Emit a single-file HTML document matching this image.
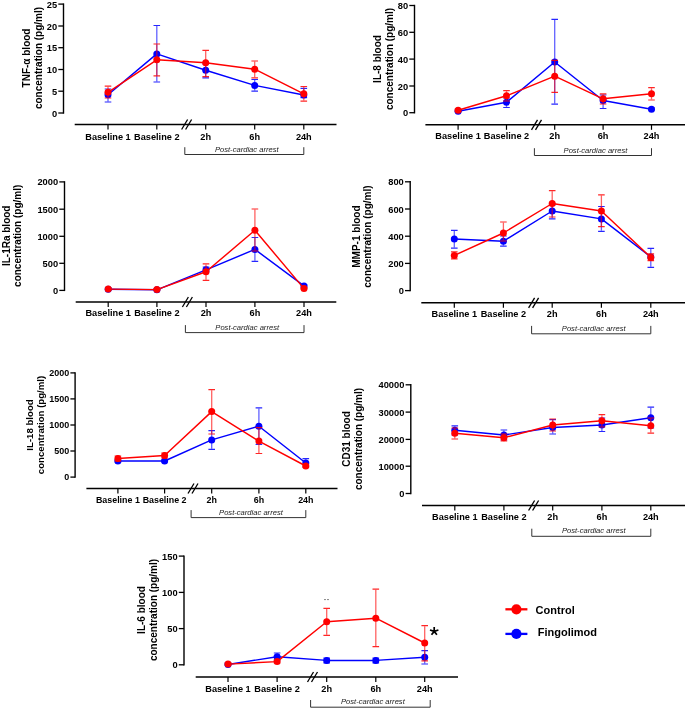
<!DOCTYPE html>
<html><head><meta charset="utf-8"><style>
html,body{margin:0;padding:0;background:#fff;width:685px;height:708px;overflow:hidden}
svg{display:block;will-change:transform}
text{font-family:"Liberation Sans", sans-serif;fill:#000}
.tk{font-size:9.3px;font-weight:bold}
.xl{font-size:9.2px;font-weight:bold}
.yl{font-size:10.0px;font-weight:bold}
.pc{font-size:7.6px;font-style:italic;fill:#222}
.lg{font-size:11px;font-weight:bold}
</style></head>
<body><svg width="685" height="708" viewBox="0 0 685 708">
<g><path d="M63.5 3.4V113.7" stroke="#000000" stroke-width="1.4" fill="none"/><path d="M58.3 4.1H63.5" stroke="#000000" stroke-width="1.3"/><text x="57.1" y="7.6" text-anchor="end" class="tk" style="font-size:9.3px">25</text><path d="M58.3 26H63.5" stroke="#000000" stroke-width="1.3"/><text x="57.1" y="29.5" text-anchor="end" class="tk" style="font-size:9.3px">20</text><path d="M58.3 47.7H63.5" stroke="#000000" stroke-width="1.3"/><text x="57.1" y="51.2" text-anchor="end" class="tk" style="font-size:9.3px">15</text><path d="M58.3 69.5H63.5" stroke="#000000" stroke-width="1.3"/><text x="57.1" y="73" text-anchor="end" class="tk" style="font-size:9.3px">10</text><path d="M58.3 91.2H63.5" stroke="#000000" stroke-width="1.3"/><text x="57.1" y="94.7" text-anchor="end" class="tk" style="font-size:9.3px">5</text><path d="M58.3 113H63.5" stroke="#000000" stroke-width="1.3"/><text x="57.1" y="116.5" text-anchor="end" class="tk" style="font-size:9.3px">0</text><path d="M74.7 124.5H336.5" stroke="#000000" stroke-width="1.4"/><path d="M108 124.5V129.5" stroke="#000000" stroke-width="1.2"/><text x="108" y="139.5" text-anchor="middle" class="xl" style="font-size:9.2px">Baseline 1</text><path d="M156.8 124.5V129.5" stroke="#000000" stroke-width="1.2"/><text x="156.8" y="139.5" text-anchor="middle" class="xl" style="font-size:9.2px">Baseline 2</text><path d="M205.7 124.5V129.5" stroke="#000000" stroke-width="1.2"/><text x="205.7" y="139.5" text-anchor="middle" class="xl" style="font-size:9.2px">2h</text><path d="M254.7 124.5V129.5" stroke="#000000" stroke-width="1.2"/><text x="254.7" y="139.5" text-anchor="middle" class="xl" style="font-size:9.2px">6h</text><path d="M303.8 124.5V129.5" stroke="#000000" stroke-width="1.2"/><text x="303.8" y="139.5" text-anchor="middle" class="xl" style="font-size:9.2px">24h</text><path d="M181.6 129.5L187.6 119.5" stroke="#000000" stroke-width="1.3"/><path d="M185.6 129.5L191.6 119.5" stroke="#000000" stroke-width="1.3"/><path d="M184.8 147.2V154.5H303.8V147.2" stroke="#333" stroke-width="1" fill="none"/><text x="246.8" y="151.6" text-anchor="middle" class="pc">Post-cardiac arrest</text><text transform="translate(30.2 58) rotate(-90)" text-anchor="middle" class="yl" style="font-size:10px">TNF-α blood</text><text transform="translate(41.9 58) rotate(-90)" text-anchor="middle" class="yl" style="font-size:10px">concentration (pg/ml)</text><polyline points="108,94.7 156.8,53.9 205.7,70.2 254.7,85.4 303.8,95" stroke="#0000ff" stroke-width="1.45" fill="none" stroke-linejoin="round"/><path d="M108 89.6V101.4" stroke="#0000ff" stroke-width="1.3" stroke-opacity="0.62" fill="none"/><path d="M104.7 89H111.3M104.7 102H111.3" stroke="#0000ff" stroke-width="1.2" stroke-opacity="0.85" fill="none"/><circle cx="108" cy="94.7" r="3.5" fill="#0000ff"/><path d="M156.8 26.1V81.4" stroke="#0000ff" stroke-width="1.3" stroke-opacity="0.62" fill="none"/><path d="M153.5 25.5H160.1M153.5 82H160.1" stroke="#0000ff" stroke-width="1.2" stroke-opacity="0.85" fill="none"/><circle cx="156.8" cy="53.9" r="3.5" fill="#0000ff"/><path d="M205.7 64.6V77.3" stroke="#0000ff" stroke-width="1.3" stroke-opacity="0.62" fill="none"/><path d="M202.4 64H209M202.4 77.9H209" stroke="#0000ff" stroke-width="1.2" stroke-opacity="0.85" fill="none"/><circle cx="205.7" cy="70.2" r="3.5" fill="#0000ff"/><path d="M254.7 80.1V90.6" stroke="#0000ff" stroke-width="1.3" stroke-opacity="0.62" fill="none"/><path d="M251.4 79.5H258M251.4 91.2H258" stroke="#0000ff" stroke-width="1.2" stroke-opacity="0.85" fill="none"/><circle cx="254.7" cy="85.4" r="3.5" fill="#0000ff"/><path d="M303.8 89V97.1" stroke="#0000ff" stroke-width="1.3" stroke-opacity="0.62" fill="none"/><path d="M300.5 88.4H307.1M300.5 97.7H307.1" stroke="#0000ff" stroke-width="1.2" stroke-opacity="0.85" fill="none"/><circle cx="303.8" cy="95" r="3.5" fill="#0000ff"/><polyline points="108,92.3 156.8,59.8 205.7,62.7 254.7,69.2 303.8,93.8" stroke="#ff0000" stroke-width="1.45" fill="none" stroke-linejoin="round"/><path d="M108 86.7V97.4" stroke="#ff0000" stroke-width="1.3" stroke-opacity="0.62" fill="none"/><path d="M104.7 86.1H111.3M104.7 98H111.3" stroke="#ff0000" stroke-width="1.2" stroke-opacity="0.85" fill="none"/><circle cx="108" cy="92.3" r="3.5" fill="#ff0000"/><path d="M156.8 44.6V75.2" stroke="#ff0000" stroke-width="1.3" stroke-opacity="0.62" fill="none"/><path d="M153.5 44H160.1M153.5 75.8H160.1" stroke="#ff0000" stroke-width="1.2" stroke-opacity="0.85" fill="none"/><circle cx="156.8" cy="59.8" r="3.5" fill="#ff0000"/><path d="M205.7 50.9V76.1" stroke="#ff0000" stroke-width="1.3" stroke-opacity="0.62" fill="none"/><path d="M202.4 50.3H209M202.4 76.7H209" stroke="#ff0000" stroke-width="1.2" stroke-opacity="0.85" fill="none"/><circle cx="205.7" cy="62.7" r="3.5" fill="#ff0000"/><path d="M254.7 61.6V77.3" stroke="#ff0000" stroke-width="1.3" stroke-opacity="0.62" fill="none"/><path d="M251.4 61H258M251.4 77.9H258" stroke="#ff0000" stroke-width="1.2" stroke-opacity="0.85" fill="none"/><circle cx="254.7" cy="69.2" r="3.5" fill="#ff0000"/><path d="M303.8 87.1V100.6" stroke="#ff0000" stroke-width="1.3" stroke-opacity="0.62" fill="none"/><path d="M300.5 86.5H307.1M300.5 101.2H307.1" stroke="#ff0000" stroke-width="1.2" stroke-opacity="0.85" fill="none"/><circle cx="303.8" cy="93.8" r="3.5" fill="#ff0000"/></g>
<g><path d="M414.5 4.8V113.4" stroke="#000000" stroke-width="1.4" fill="none"/><path d="M409.3 5.5H414.5" stroke="#000000" stroke-width="1.3"/><text x="408.1" y="9" text-anchor="end" class="tk" style="font-size:9.3px">80</text><path d="M409.3 32.3H414.5" stroke="#000000" stroke-width="1.3"/><text x="408.1" y="35.8" text-anchor="end" class="tk" style="font-size:9.3px">60</text><path d="M409.3 59.1H414.5" stroke="#000000" stroke-width="1.3"/><text x="408.1" y="62.6" text-anchor="end" class="tk" style="font-size:9.3px">40</text><path d="M409.3 86H414.5" stroke="#000000" stroke-width="1.3"/><text x="408.1" y="89.5" text-anchor="end" class="tk" style="font-size:9.3px">20</text><path d="M409.3 112.7H414.5" stroke="#000000" stroke-width="1.3"/><text x="408.1" y="116.2" text-anchor="end" class="tk" style="font-size:9.3px">0</text><path d="M425.4 124.8H685" stroke="#000000" stroke-width="1.4"/><path d="M458.1 124.8V129.8" stroke="#000000" stroke-width="1.2"/><text x="458.1" y="139.4" text-anchor="middle" class="xl" style="font-size:9.2px">Baseline 1</text><path d="M506.5 124.8V129.8" stroke="#000000" stroke-width="1.2"/><text x="506.5" y="139.4" text-anchor="middle" class="xl" style="font-size:9.2px">Baseline 2</text><path d="M554.7 124.8V129.8" stroke="#000000" stroke-width="1.2"/><text x="554.7" y="139.4" text-anchor="middle" class="xl" style="font-size:9.2px">2h</text><path d="M603.1 124.8V129.8" stroke="#000000" stroke-width="1.2"/><text x="603.1" y="139.4" text-anchor="middle" class="xl" style="font-size:9.2px">6h</text><path d="M651.5 124.8V129.8" stroke="#000000" stroke-width="1.2"/><text x="651.5" y="139.4" text-anchor="middle" class="xl" style="font-size:9.2px">24h</text><path d="M531.5 129.8L537.5 119.8" stroke="#000000" stroke-width="1.3"/><path d="M535.5 129.8L541.5 119.8" stroke="#000000" stroke-width="1.3"/><path d="M534.4 148.2V155.5H651.5V148.2" stroke="#333" stroke-width="1" fill="none"/><text x="595.45" y="152.6" text-anchor="middle" class="pc">Post-cardiac arrest</text><text transform="translate(381.1 59) rotate(-90)" text-anchor="middle" class="yl" style="font-size:10px">IL-8 blood</text><text transform="translate(392.8 59) rotate(-90)" text-anchor="middle" class="yl" style="font-size:10px">concentration (pg/ml)</text><polyline points="458.1,111.2 506.5,102.3 554.7,62 603.1,100.5 651.5,109.2" stroke="#0000ff" stroke-width="1.45" fill="none" stroke-linejoin="round"/><path d="M458.1 110.6V111.4" stroke="#0000ff" stroke-width="1.3" stroke-opacity="0.62" fill="none"/><path d="M454.8 110H461.4M454.8 112H461.4" stroke="#0000ff" stroke-width="1.2" stroke-opacity="0.85" fill="none"/><circle cx="458.1" cy="111.2" r="3.5" fill="#0000ff"/><path d="M506.5 98.6V106.9" stroke="#0000ff" stroke-width="1.3" stroke-opacity="0.62" fill="none"/><path d="M503.2 98H509.8M503.2 107.5H509.8" stroke="#0000ff" stroke-width="1.2" stroke-opacity="0.85" fill="none"/><circle cx="506.5" cy="102.3" r="3.5" fill="#0000ff"/><path d="M554.7 20V103.6" stroke="#0000ff" stroke-width="1.3" stroke-opacity="0.62" fill="none"/><path d="M551.4 19.4H558M551.4 104.2H558" stroke="#0000ff" stroke-width="1.2" stroke-opacity="0.85" fill="none"/><circle cx="554.7" cy="62" r="3.5" fill="#0000ff"/><path d="M603.1 95.6V107.9" stroke="#0000ff" stroke-width="1.3" stroke-opacity="0.62" fill="none"/><path d="M599.8 95H606.4M599.8 108.5H606.4" stroke="#0000ff" stroke-width="1.2" stroke-opacity="0.85" fill="none"/><circle cx="603.1" cy="100.5" r="3.5" fill="#0000ff"/><path d="M651.5 108.6V109.4" stroke="#0000ff" stroke-width="1.3" stroke-opacity="0.62" fill="none"/><path d="M648.2 108H654.8M648.2 110H654.8" stroke="#0000ff" stroke-width="1.2" stroke-opacity="0.85" fill="none"/><circle cx="651.5" cy="109.2" r="3.5" fill="#0000ff"/><polyline points="458.1,110.3 506.5,95.8 554.7,76.2 603.1,98.8 651.5,93.8" stroke="#ff0000" stroke-width="1.45" fill="none" stroke-linejoin="round"/><path d="M458.1 109.6V110.9" stroke="#ff0000" stroke-width="1.3" stroke-opacity="0.62" fill="none"/><path d="M454.8 109H461.4M454.8 111.5H461.4" stroke="#ff0000" stroke-width="1.2" stroke-opacity="0.85" fill="none"/><circle cx="458.1" cy="110.3" r="3.5" fill="#ff0000"/><path d="M506.5 91.2V100.4" stroke="#ff0000" stroke-width="1.3" stroke-opacity="0.62" fill="none"/><path d="M503.2 90.6H509.8M503.2 101H509.8" stroke="#ff0000" stroke-width="1.2" stroke-opacity="0.85" fill="none"/><circle cx="506.5" cy="95.8" r="3.5" fill="#ff0000"/><path d="M554.7 60.9V91.7" stroke="#ff0000" stroke-width="1.3" stroke-opacity="0.62" fill="none"/><path d="M551.4 60.3H558M551.4 92.3H558" stroke="#ff0000" stroke-width="1.2" stroke-opacity="0.85" fill="none"/><circle cx="554.7" cy="76.2" r="3.5" fill="#ff0000"/><path d="M603.1 94.4V103.4" stroke="#ff0000" stroke-width="1.3" stroke-opacity="0.62" fill="none"/><path d="M599.8 93.8H606.4M599.8 104H606.4" stroke="#ff0000" stroke-width="1.2" stroke-opacity="0.85" fill="none"/><circle cx="603.1" cy="98.8" r="3.5" fill="#ff0000"/><path d="M651.5 88.2V99.4" stroke="#ff0000" stroke-width="1.3" stroke-opacity="0.62" fill="none"/><path d="M648.2 87.6H654.8M648.2 100H654.8" stroke="#ff0000" stroke-width="1.2" stroke-opacity="0.85" fill="none"/><circle cx="651.5" cy="93.8" r="3.5" fill="#ff0000"/></g>
<g><path d="M64.5 181.2V291.1" stroke="#000000" stroke-width="1.4" fill="none"/><path d="M59.3 181.9H64.5" stroke="#000000" stroke-width="1.3"/><text x="58.1" y="185.4" text-anchor="end" class="tk" style="font-size:9.3px">2000</text><path d="M59.3 209.2H64.5" stroke="#000000" stroke-width="1.3"/><text x="58.1" y="212.7" text-anchor="end" class="tk" style="font-size:9.3px">1500</text><path d="M59.3 236.3H64.5" stroke="#000000" stroke-width="1.3"/><text x="58.1" y="239.8" text-anchor="end" class="tk" style="font-size:9.3px">1000</text><path d="M59.3 263.3H64.5" stroke="#000000" stroke-width="1.3"/><text x="58.1" y="266.8" text-anchor="end" class="tk" style="font-size:9.3px">500</text><path d="M59.3 290.4H64.5" stroke="#000000" stroke-width="1.3"/><text x="58.1" y="293.9" text-anchor="end" class="tk" style="font-size:9.3px">0</text><path d="M75.7 302H336.3" stroke="#000000" stroke-width="1.4"/><path d="M108.2 302V307" stroke="#000000" stroke-width="1.2"/><text x="108.2" y="316.2" text-anchor="middle" class="xl" style="font-size:9.2px">Baseline 1</text><path d="M156.9 302V307" stroke="#000000" stroke-width="1.2"/><text x="156.9" y="316.2" text-anchor="middle" class="xl" style="font-size:9.2px">Baseline 2</text><path d="M206 302V307" stroke="#000000" stroke-width="1.2"/><text x="206" y="316.2" text-anchor="middle" class="xl" style="font-size:9.2px">2h</text><path d="M254.9 302V307" stroke="#000000" stroke-width="1.2"/><text x="254.9" y="316.2" text-anchor="middle" class="xl" style="font-size:9.2px">6h</text><path d="M304 302V307" stroke="#000000" stroke-width="1.2"/><text x="304" y="316.2" text-anchor="middle" class="xl" style="font-size:9.2px">24h</text><path d="M182.4 307L188.4 297" stroke="#000000" stroke-width="1.3"/><path d="M186.4 307L192.4 297" stroke="#000000" stroke-width="1.3"/><path d="M185.4 325.1V332.6H304V325.1" stroke="#333" stroke-width="1" fill="none"/><text x="247.2" y="329.7" text-anchor="middle" class="pc">Post-cardiac arrest</text><text transform="translate(10.1 235.8) rotate(-90)" text-anchor="middle" class="yl" style="font-size:10px">IL-1Ra blood</text><text transform="translate(20.7 235.8) rotate(-90)" text-anchor="middle" class="yl" style="font-size:10px">concentration (pg/ml)</text><polyline points="108.2,289.3 156.9,289.8 206,269.8 254.9,249.4 304,285.9" stroke="#0000ff" stroke-width="1.45" fill="none" stroke-linejoin="round"/><path d="M108.2 288.6V289.4" stroke="#0000ff" stroke-width="1.3" stroke-opacity="0.62" fill="none"/><path d="M104.9 288H111.5M104.9 290H111.5" stroke="#0000ff" stroke-width="1.2" stroke-opacity="0.85" fill="none"/><circle cx="108.2" cy="289.3" r="3.5" fill="#0000ff"/><path d="M156.9 289.6V289.4" stroke="#0000ff" stroke-width="1.3" stroke-opacity="0.62" fill="none"/><path d="M153.6 289H160.2M153.6 290H160.2" stroke="#0000ff" stroke-width="1.2" stroke-opacity="0.85" fill="none"/><circle cx="156.9" cy="289.8" r="3.5" fill="#0000ff"/><path d="M206 267.6V271.4" stroke="#0000ff" stroke-width="1.3" stroke-opacity="0.62" fill="none"/><path d="M202.7 267H209.3M202.7 272H209.3" stroke="#0000ff" stroke-width="1.2" stroke-opacity="0.85" fill="none"/><circle cx="206" cy="269.8" r="3.5" fill="#0000ff"/><path d="M254.9 238.1V260.7" stroke="#0000ff" stroke-width="1.3" stroke-opacity="0.62" fill="none"/><path d="M251.6 237.5H258.2M251.6 261.3H258.2" stroke="#0000ff" stroke-width="1.2" stroke-opacity="0.85" fill="none"/><circle cx="254.9" cy="249.4" r="3.5" fill="#0000ff"/><path d="M304 285.6V286.4" stroke="#0000ff" stroke-width="1.3" stroke-opacity="0.62" fill="none"/><path d="M300.7 285H307.3M300.7 287H307.3" stroke="#0000ff" stroke-width="1.2" stroke-opacity="0.85" fill="none"/><circle cx="304" cy="285.9" r="3.5" fill="#0000ff"/><polyline points="108.2,289.1 156.9,289.6 206,271.8 254.9,230.3 304,288.6" stroke="#ff0000" stroke-width="1.45" fill="none" stroke-linejoin="round"/><path d="M108.2 288.6V289.4" stroke="#ff0000" stroke-width="1.3" stroke-opacity="0.62" fill="none"/><path d="M104.9 288H111.5M104.9 290H111.5" stroke="#ff0000" stroke-width="1.2" stroke-opacity="0.85" fill="none"/><circle cx="108.2" cy="289.1" r="3.5" fill="#ff0000"/><path d="M156.9 289.6V289.4" stroke="#ff0000" stroke-width="1.3" stroke-opacity="0.62" fill="none"/><path d="M153.6 289H160.2M153.6 290H160.2" stroke="#ff0000" stroke-width="1.2" stroke-opacity="0.85" fill="none"/><circle cx="156.9" cy="289.6" r="3.5" fill="#ff0000"/><path d="M206 264.4V279.8" stroke="#ff0000" stroke-width="1.3" stroke-opacity="0.62" fill="none"/><path d="M202.7 263.8H209.3M202.7 280.4H209.3" stroke="#ff0000" stroke-width="1.2" stroke-opacity="0.85" fill="none"/><circle cx="206" cy="271.8" r="3.5" fill="#ff0000"/><path d="M254.9 209.6V250.4" stroke="#ff0000" stroke-width="1.3" stroke-opacity="0.62" fill="none"/><path d="M251.6 209H258.2M251.6 251H258.2" stroke="#ff0000" stroke-width="1.2" stroke-opacity="0.85" fill="none"/><circle cx="254.9" cy="230.3" r="3.5" fill="#ff0000"/><path d="M304 288.6V288.4" stroke="#ff0000" stroke-width="1.3" stroke-opacity="0.62" fill="none"/><path d="M300.7 288H307.3M300.7 289H307.3" stroke="#ff0000" stroke-width="1.2" stroke-opacity="0.85" fill="none"/><circle cx="304" cy="288.6" r="3.5" fill="#ff0000"/></g>
<g><path d="M410.2 181.1V291.3" stroke="#000000" stroke-width="1.4" fill="none"/><path d="M405 181.8H410.2" stroke="#000000" stroke-width="1.3"/><text x="403.8" y="185.3" text-anchor="end" class="tk" style="font-size:9.3px">800</text><path d="M405 209H410.2" stroke="#000000" stroke-width="1.3"/><text x="403.8" y="212.5" text-anchor="end" class="tk" style="font-size:9.3px">600</text><path d="M405 236.2H410.2" stroke="#000000" stroke-width="1.3"/><text x="403.8" y="239.7" text-anchor="end" class="tk" style="font-size:9.3px">400</text><path d="M405 263.4H410.2" stroke="#000000" stroke-width="1.3"/><text x="403.8" y="266.9" text-anchor="end" class="tk" style="font-size:9.3px">200</text><path d="M405 290.6H410.2" stroke="#000000" stroke-width="1.3"/><text x="403.8" y="294.1" text-anchor="end" class="tk" style="font-size:9.3px">0</text><path d="M421.3 302.8H685" stroke="#000000" stroke-width="1.4"/><path d="M454.3 302.8V307.8" stroke="#000000" stroke-width="1.2"/><text x="454.3" y="317.4" text-anchor="middle" class="xl" style="font-size:9.2px">Baseline 1</text><path d="M503.4 302.8V307.8" stroke="#000000" stroke-width="1.2"/><text x="503.4" y="317.4" text-anchor="middle" class="xl" style="font-size:9.2px">Baseline 2</text><path d="M552.2 302.8V307.8" stroke="#000000" stroke-width="1.2"/><text x="552.2" y="317.4" text-anchor="middle" class="xl" style="font-size:9.2px">2h</text><path d="M601.4 302.8V307.8" stroke="#000000" stroke-width="1.2"/><text x="601.4" y="317.4" text-anchor="middle" class="xl" style="font-size:9.2px">6h</text><path d="M650.8 302.8V307.8" stroke="#000000" stroke-width="1.2"/><text x="650.8" y="317.4" text-anchor="middle" class="xl" style="font-size:9.2px">24h</text><path d="M528.6 307.8L534.6 297.8" stroke="#000000" stroke-width="1.3"/><path d="M532.6 307.8L538.6 297.8" stroke="#000000" stroke-width="1.3"/><path d="M531.6 325.9V333.8H650.8V325.9" stroke="#333" stroke-width="1" fill="none"/><text x="593.7" y="330.9" text-anchor="middle" class="pc">Post-cardiac arrest</text><text transform="translate(359.6 236.6) rotate(-90)" text-anchor="middle" class="yl" style="font-size:10px">MMP-1 blood</text><text transform="translate(371.2 236.6) rotate(-90)" text-anchor="middle" class="yl" style="font-size:10px">concentration (pg/ml)</text><polyline points="454.3,239 503.4,241.2 552.2,211 601.4,218.9 650.8,256.9" stroke="#0000ff" stroke-width="1.45" fill="none" stroke-linejoin="round"/><path d="M454.3 230.9V247.6" stroke="#0000ff" stroke-width="1.3" stroke-opacity="0.62" fill="none"/><path d="M451 230.3H457.6M451 248.2H457.6" stroke="#0000ff" stroke-width="1.2" stroke-opacity="0.85" fill="none"/><circle cx="454.3" cy="239" r="3.5" fill="#0000ff"/><path d="M503.4 236.6V245.6" stroke="#0000ff" stroke-width="1.3" stroke-opacity="0.62" fill="none"/><path d="M500.1 236H506.7M500.1 246.2H506.7" stroke="#0000ff" stroke-width="1.2" stroke-opacity="0.85" fill="none"/><circle cx="503.4" cy="241.2" r="3.5" fill="#0000ff"/><path d="M552.2 205.6V218.3" stroke="#0000ff" stroke-width="1.3" stroke-opacity="0.62" fill="none"/><path d="M548.9 205H555.5M548.9 218.9H555.5" stroke="#0000ff" stroke-width="1.2" stroke-opacity="0.85" fill="none"/><circle cx="552.2" cy="211" r="3.5" fill="#0000ff"/><path d="M601.4 207.1V230.7" stroke="#0000ff" stroke-width="1.3" stroke-opacity="0.62" fill="none"/><path d="M598.1 206.5H604.7M598.1 231.3H604.7" stroke="#0000ff" stroke-width="1.2" stroke-opacity="0.85" fill="none"/><circle cx="601.4" cy="218.9" r="3.5" fill="#0000ff"/><path d="M650.8 249V266.7" stroke="#0000ff" stroke-width="1.3" stroke-opacity="0.62" fill="none"/><path d="M647.5 248.4H654.1M647.5 267.3H654.1" stroke="#0000ff" stroke-width="1.2" stroke-opacity="0.85" fill="none"/><circle cx="650.8" cy="256.9" r="3.5" fill="#0000ff"/><polyline points="454.3,255.4 503.4,233 552.2,203.5 601.4,211 650.8,257.4" stroke="#ff0000" stroke-width="1.45" fill="none" stroke-linejoin="round"/><path d="M454.3 252.5V258.3" stroke="#ff0000" stroke-width="1.3" stroke-opacity="0.62" fill="none"/><path d="M451 251.9H457.6M451 258.9H457.6" stroke="#ff0000" stroke-width="1.2" stroke-opacity="0.85" fill="none"/><circle cx="454.3" cy="255.4" r="3.5" fill="#ff0000"/><path d="M503.4 222.6V240.4" stroke="#ff0000" stroke-width="1.3" stroke-opacity="0.62" fill="none"/><path d="M500.1 222H506.7M500.1 241H506.7" stroke="#ff0000" stroke-width="1.2" stroke-opacity="0.85" fill="none"/><circle cx="503.4" cy="233" r="3.5" fill="#ff0000"/><path d="M552.2 191.2V216.4" stroke="#ff0000" stroke-width="1.3" stroke-opacity="0.62" fill="none"/><path d="M548.9 190.6H555.5M548.9 217H555.5" stroke="#ff0000" stroke-width="1.2" stroke-opacity="0.85" fill="none"/><circle cx="552.2" cy="203.5" r="3.5" fill="#ff0000"/><path d="M601.4 195.4V226" stroke="#ff0000" stroke-width="1.3" stroke-opacity="0.62" fill="none"/><path d="M598.1 194.8H604.7M598.1 226.6H604.7" stroke="#ff0000" stroke-width="1.2" stroke-opacity="0.85" fill="none"/><circle cx="601.4" cy="211" r="3.5" fill="#ff0000"/><path d="M650.8 254.5V260" stroke="#ff0000" stroke-width="1.3" stroke-opacity="0.62" fill="none"/><path d="M647.5 253.9H654.1M647.5 260.6H654.1" stroke="#ff0000" stroke-width="1.2" stroke-opacity="0.85" fill="none"/><circle cx="650.8" cy="257.4" r="3.5" fill="#ff0000"/></g>
<g><path d="M75.1 372.2V477.8" stroke="#000000" stroke-width="1.4" fill="none"/><path d="M70.4 372.9H75.1" stroke="#000000" stroke-width="1.3"/><text x="69.2" y="375.7" text-anchor="end" class="tk" style="font-size:8.97px">2000</text><path d="M70.4 398.9H75.1" stroke="#000000" stroke-width="1.3"/><text x="69.2" y="401.7" text-anchor="end" class="tk" style="font-size:8.97px">1500</text><path d="M70.4 425H75.1" stroke="#000000" stroke-width="1.3"/><text x="69.2" y="427.8" text-anchor="end" class="tk" style="font-size:8.97px">1000</text><path d="M70.4 451H75.1" stroke="#000000" stroke-width="1.3"/><text x="69.2" y="453.8" text-anchor="end" class="tk" style="font-size:8.97px">500</text><path d="M70.4 477.1H75.1" stroke="#000000" stroke-width="1.3"/><text x="69.2" y="479.9" text-anchor="end" class="tk" style="font-size:8.97px">0</text><path d="M86.4 488.5H337.5" stroke="#000000" stroke-width="1.4"/><path d="M117.9 488.5V493.5" stroke="#000000" stroke-width="1.2"/><text x="117.9" y="502.5" text-anchor="middle" class="xl" style="font-size:8.88px">Baseline 1</text><path d="M164.6 488.5V493.5" stroke="#000000" stroke-width="1.2"/><text x="164.6" y="502.5" text-anchor="middle" class="xl" style="font-size:8.88px">Baseline 2</text><path d="M211.7 488.5V493.5" stroke="#000000" stroke-width="1.2"/><text x="211.7" y="502.5" text-anchor="middle" class="xl" style="font-size:8.88px">2h</text><path d="M258.9 488.5V493.5" stroke="#000000" stroke-width="1.2"/><text x="258.9" y="502.5" text-anchor="middle" class="xl" style="font-size:8.88px">6h</text><path d="M305.8 488.5V493.5" stroke="#000000" stroke-width="1.2"/><text x="305.8" y="502.5" text-anchor="middle" class="xl" style="font-size:8.88px">24h</text><path d="M188 493.5L194 483.5" stroke="#000000" stroke-width="1.3"/><path d="M192 493.5L198 483.5" stroke="#000000" stroke-width="1.3"/><path d="M191.1 510.1V517.6H305.8V510.1" stroke="#333" stroke-width="1" fill="none"/><text x="250.95" y="514.7" text-anchor="middle" class="pc">Post-cardiac arrest</text><text transform="translate(32.7 425) rotate(-90)" text-anchor="middle" class="yl" style="font-size:9.65px">IL-18 blood</text><text transform="translate(43.9 425) rotate(-90)" text-anchor="middle" class="yl" style="font-size:9.65px">concentration (pg/ml)</text><polyline points="117.9,461 164.6,461 211.7,439.9 258.9,426.2 305.8,463" stroke="#0000ff" stroke-width="1.45" fill="none" stroke-linejoin="round"/><path d="M117.9 460.6V461.4" stroke="#0000ff" stroke-width="1.3" stroke-opacity="0.62" fill="none"/><path d="M114.6 460H121.2M114.6 462H121.2" stroke="#0000ff" stroke-width="1.2" stroke-opacity="0.85" fill="none"/><circle cx="117.9" cy="461" r="3.5" fill="#0000ff"/><path d="M164.6 460.6V461.4" stroke="#0000ff" stroke-width="1.3" stroke-opacity="0.62" fill="none"/><path d="M161.3 460H167.9M161.3 462H167.9" stroke="#0000ff" stroke-width="1.2" stroke-opacity="0.85" fill="none"/><circle cx="164.6" cy="461" r="3.5" fill="#0000ff"/><path d="M211.7 431.3V448.7" stroke="#0000ff" stroke-width="1.3" stroke-opacity="0.62" fill="none"/><path d="M208.4 430.7H215M208.4 449.3H215" stroke="#0000ff" stroke-width="1.2" stroke-opacity="0.85" fill="none"/><circle cx="211.7" cy="439.9" r="3.5" fill="#0000ff"/><path d="M258.9 408.5V443.8" stroke="#0000ff" stroke-width="1.3" stroke-opacity="0.62" fill="none"/><path d="M255.6 407.9H262.2M255.6 444.4H262.2" stroke="#0000ff" stroke-width="1.2" stroke-opacity="0.85" fill="none"/><circle cx="258.9" cy="426.2" r="3.5" fill="#0000ff"/><path d="M305.8 459.3V466.4" stroke="#0000ff" stroke-width="1.3" stroke-opacity="0.62" fill="none"/><path d="M302.5 458.7H309.1M302.5 467H309.1" stroke="#0000ff" stroke-width="1.2" stroke-opacity="0.85" fill="none"/><circle cx="305.8" cy="463" r="3.5" fill="#0000ff"/><polyline points="117.9,458.5 164.6,455.5 211.7,411.6 258.9,441.1 305.8,466" stroke="#ff0000" stroke-width="1.45" fill="none" stroke-linejoin="round"/><path d="M117.9 456.6V460.4" stroke="#ff0000" stroke-width="1.3" stroke-opacity="0.62" fill="none"/><path d="M114.6 456H121.2M114.6 461H121.2" stroke="#ff0000" stroke-width="1.2" stroke-opacity="0.85" fill="none"/><circle cx="117.9" cy="458.5" r="3.5" fill="#ff0000"/><path d="M164.6 453.6V457.4" stroke="#ff0000" stroke-width="1.3" stroke-opacity="0.62" fill="none"/><path d="M161.3 453H167.9M161.3 458H167.9" stroke="#ff0000" stroke-width="1.2" stroke-opacity="0.85" fill="none"/><circle cx="164.6" cy="455.5" r="3.5" fill="#ff0000"/><path d="M211.7 390.3V433.4" stroke="#ff0000" stroke-width="1.3" stroke-opacity="0.62" fill="none"/><path d="M208.4 389.7H215M208.4 434H215" stroke="#ff0000" stroke-width="1.2" stroke-opacity="0.85" fill="none"/><circle cx="211.7" cy="411.6" r="3.5" fill="#ff0000"/><path d="M258.9 428.3V452.9" stroke="#ff0000" stroke-width="1.3" stroke-opacity="0.62" fill="none"/><path d="M255.6 427.7H262.2M255.6 453.5H262.2" stroke="#ff0000" stroke-width="1.2" stroke-opacity="0.85" fill="none"/><circle cx="258.9" cy="441.1" r="3.5" fill="#ff0000"/><path d="M305.8 465.6V466.4" stroke="#ff0000" stroke-width="1.3" stroke-opacity="0.62" fill="none"/><path d="M302.5 465H309.1M302.5 467H309.1" stroke="#ff0000" stroke-width="1.2" stroke-opacity="0.85" fill="none"/><circle cx="305.8" cy="466" r="3.5" fill="#ff0000"/></g>
<g><path d="M410.8 384.1V494.2" stroke="#000000" stroke-width="1.4" fill="none"/><path d="M405.6 384.8H410.8" stroke="#000000" stroke-width="1.3"/><text x="404.4" y="388.3" text-anchor="end" class="tk" style="font-size:9.3px">40000</text><path d="M405.6 412.1H410.8" stroke="#000000" stroke-width="1.3"/><text x="404.4" y="415.6" text-anchor="end" class="tk" style="font-size:9.3px">30000</text><path d="M405.6 439.4H410.8" stroke="#000000" stroke-width="1.3"/><text x="404.4" y="442.9" text-anchor="end" class="tk" style="font-size:9.3px">20000</text><path d="M405.6 466.2H410.8" stroke="#000000" stroke-width="1.3"/><text x="404.4" y="469.7" text-anchor="end" class="tk" style="font-size:9.3px">10000</text><path d="M405.6 493.5H410.8" stroke="#000000" stroke-width="1.3"/><text x="404.4" y="497" text-anchor="end" class="tk" style="font-size:9.3px">0</text><path d="M422 505.5H685" stroke="#000000" stroke-width="1.4"/><path d="M454.8 505.5V510.5" stroke="#000000" stroke-width="1.2"/><text x="454.8" y="520.2" text-anchor="middle" class="xl" style="font-size:9.2px">Baseline 1</text><path d="M503.9 505.5V510.5" stroke="#000000" stroke-width="1.2"/><text x="503.9" y="520.2" text-anchor="middle" class="xl" style="font-size:9.2px">Baseline 2</text><path d="M552.7 505.5V510.5" stroke="#000000" stroke-width="1.2"/><text x="552.7" y="520.2" text-anchor="middle" class="xl" style="font-size:9.2px">2h</text><path d="M601.9 505.5V510.5" stroke="#000000" stroke-width="1.2"/><text x="601.9" y="520.2" text-anchor="middle" class="xl" style="font-size:9.2px">6h</text><path d="M650.8 505.5V510.5" stroke="#000000" stroke-width="1.2"/><text x="650.8" y="520.2" text-anchor="middle" class="xl" style="font-size:9.2px">24h</text><path d="M528.6 510.5L534.6 500.5" stroke="#000000" stroke-width="1.3"/><path d="M532.6 510.5L538.6 500.5" stroke="#000000" stroke-width="1.3"/><path d="M531.8 528.7V536.3H650.8V528.7" stroke="#333" stroke-width="1" fill="none"/><text x="593.8" y="533.4" text-anchor="middle" class="pc">Post-cardiac arrest</text><text transform="translate(350.3 439) rotate(-90)" text-anchor="middle" class="yl" style="font-size:10px">CD31 blood</text><text transform="translate(362.2 439) rotate(-90)" text-anchor="middle" class="yl" style="font-size:10px">concentration (pg/ml)</text><polyline points="454.8,430.2 503.9,435 552.7,427.5 601.9,425 650.8,417.8" stroke="#0000ff" stroke-width="1.45" fill="none" stroke-linejoin="round"/><path d="M454.8 426.4V434.4" stroke="#0000ff" stroke-width="1.3" stroke-opacity="0.62" fill="none"/><path d="M451.5 425.8H458.1M451.5 435H458.1" stroke="#0000ff" stroke-width="1.2" stroke-opacity="0.85" fill="none"/><circle cx="454.8" cy="430.2" r="3.5" fill="#0000ff"/><path d="M503.9 430.6V439.4" stroke="#0000ff" stroke-width="1.3" stroke-opacity="0.62" fill="none"/><path d="M500.6 430H507.2M500.6 440H507.2" stroke="#0000ff" stroke-width="1.2" stroke-opacity="0.85" fill="none"/><circle cx="503.9" cy="435" r="3.5" fill="#0000ff"/><path d="M552.7 420.2V433.4" stroke="#0000ff" stroke-width="1.3" stroke-opacity="0.62" fill="none"/><path d="M549.4 419.6H556M549.4 434H556" stroke="#0000ff" stroke-width="1.2" stroke-opacity="0.85" fill="none"/><circle cx="552.7" cy="427.5" r="3.5" fill="#0000ff"/><path d="M601.9 418.6V430.9" stroke="#0000ff" stroke-width="1.3" stroke-opacity="0.62" fill="none"/><path d="M598.6 418H605.2M598.6 431.5H605.2" stroke="#0000ff" stroke-width="1.2" stroke-opacity="0.85" fill="none"/><circle cx="601.9" cy="425" r="3.5" fill="#0000ff"/><path d="M650.8 407.8V427.4" stroke="#0000ff" stroke-width="1.3" stroke-opacity="0.62" fill="none"/><path d="M647.5 407.2H654.1M647.5 428H654.1" stroke="#0000ff" stroke-width="1.2" stroke-opacity="0.85" fill="none"/><circle cx="650.8" cy="417.8" r="3.5" fill="#0000ff"/><polyline points="454.8,433.2 503.9,437.7 552.7,425 601.9,420.8 650.8,425.8" stroke="#ff0000" stroke-width="1.45" fill="none" stroke-linejoin="round"/><path d="M454.8 428.6V438.4" stroke="#ff0000" stroke-width="1.3" stroke-opacity="0.62" fill="none"/><path d="M451.5 428H458.1M451.5 439H458.1" stroke="#ff0000" stroke-width="1.2" stroke-opacity="0.85" fill="none"/><circle cx="454.8" cy="433.2" r="3.5" fill="#ff0000"/><path d="M503.9 434.6V440.4" stroke="#ff0000" stroke-width="1.3" stroke-opacity="0.62" fill="none"/><path d="M500.6 434H507.2M500.6 441H507.2" stroke="#ff0000" stroke-width="1.2" stroke-opacity="0.85" fill="none"/><circle cx="503.9" cy="437.7" r="3.5" fill="#ff0000"/><path d="M552.7 419.6V430.4" stroke="#ff0000" stroke-width="1.3" stroke-opacity="0.62" fill="none"/><path d="M549.4 419H556M549.4 431H556" stroke="#ff0000" stroke-width="1.2" stroke-opacity="0.85" fill="none"/><circle cx="552.7" cy="425" r="3.5" fill="#ff0000"/><path d="M601.9 415.2V426.4" stroke="#ff0000" stroke-width="1.3" stroke-opacity="0.62" fill="none"/><path d="M598.6 414.6H605.2M598.6 427H605.2" stroke="#ff0000" stroke-width="1.2" stroke-opacity="0.85" fill="none"/><circle cx="601.9" cy="420.8" r="3.5" fill="#ff0000"/><path d="M650.8 418.6V432.6" stroke="#ff0000" stroke-width="1.3" stroke-opacity="0.62" fill="none"/><path d="M647.5 418H654.1M647.5 433.2H654.1" stroke="#ff0000" stroke-width="1.2" stroke-opacity="0.85" fill="none"/><circle cx="650.8" cy="425.8" r="3.5" fill="#ff0000"/></g>
<g><path d="M184 555.4V665.5" stroke="#000000" stroke-width="1.4" fill="none"/><path d="M178.8 556.1H184" stroke="#000000" stroke-width="1.3"/><text x="177.6" y="559.6" text-anchor="end" class="tk" style="font-size:9.3px">150</text><path d="M178.8 592.4H184" stroke="#000000" stroke-width="1.3"/><text x="177.6" y="595.9" text-anchor="end" class="tk" style="font-size:9.3px">100</text><path d="M178.8 628.6H184" stroke="#000000" stroke-width="1.3"/><text x="177.6" y="632.1" text-anchor="end" class="tk" style="font-size:9.3px">50</text><path d="M178.8 664.8H184" stroke="#000000" stroke-width="1.3"/><text x="177.6" y="668.3" text-anchor="end" class="tk" style="font-size:9.3px">0</text><path d="M195.7 677H458" stroke="#000000" stroke-width="1.4"/><path d="M228 677V682" stroke="#000000" stroke-width="1.2"/><text x="228" y="691.7" text-anchor="middle" class="xl" style="font-size:9.2px">Baseline 1</text><path d="M277.1 677V682" stroke="#000000" stroke-width="1.2"/><text x="277.1" y="691.7" text-anchor="middle" class="xl" style="font-size:9.2px">Baseline 2</text><path d="M326.7 677V682" stroke="#000000" stroke-width="1.2"/><text x="326.7" y="691.7" text-anchor="middle" class="xl" style="font-size:9.2px">2h</text><path d="M375.8 677V682" stroke="#000000" stroke-width="1.2"/><text x="375.8" y="691.7" text-anchor="middle" class="xl" style="font-size:9.2px">6h</text><path d="M424.7 677V682" stroke="#000000" stroke-width="1.2"/><text x="424.7" y="691.7" text-anchor="middle" class="xl" style="font-size:9.2px">24h</text><path d="M307.5 682L313.5 672" stroke="#000000" stroke-width="1.3"/><path d="M311.5 682L317.5 672" stroke="#000000" stroke-width="1.3"/><path d="M310.6 700V707.2H430.2V700" stroke="#333" stroke-width="1" fill="none"/><text x="372.9" y="704.3" text-anchor="middle" class="pc">Post-cardiac arrest</text><text transform="translate(144.7 610) rotate(-90)" text-anchor="middle" class="yl" style="font-size:10px">IL-6 blood</text><text transform="translate(157.2 610) rotate(-90)" text-anchor="middle" class="yl" style="font-size:10px">concentration (pg/ml)</text><polyline points="228,664.5 277.1,656.7 326.7,660.4 375.8,660.4 424.7,657.3" stroke="#0000ff" stroke-width="1.45" fill="none" stroke-linejoin="round"/><path d="M228 663.6V664.4" stroke="#0000ff" stroke-width="1.3" stroke-opacity="0.62" fill="none"/><path d="M224.7 663H231.3M224.7 665H231.3" stroke="#0000ff" stroke-width="1.2" stroke-opacity="0.85" fill="none"/><circle cx="228" cy="664.5" r="3.5" fill="#0000ff"/><path d="M277.1 653.6V659.4" stroke="#0000ff" stroke-width="1.3" stroke-opacity="0.62" fill="none"/><path d="M273.8 653H280.4M273.8 660H280.4" stroke="#0000ff" stroke-width="1.2" stroke-opacity="0.85" fill="none"/><circle cx="277.1" cy="656.7" r="3.5" fill="#0000ff"/><path d="M326.7 658.8V662.2" stroke="#0000ff" stroke-width="1.3" stroke-opacity="0.62" fill="none"/><path d="M323.4 658.2H330M323.4 662.8H330" stroke="#0000ff" stroke-width="1.2" stroke-opacity="0.85" fill="none"/><circle cx="326.7" cy="660.4" r="3.5" fill="#0000ff"/><path d="M375.8 658.8V662.2" stroke="#0000ff" stroke-width="1.3" stroke-opacity="0.62" fill="none"/><path d="M372.5 658.2H379.1M372.5 662.8H379.1" stroke="#0000ff" stroke-width="1.2" stroke-opacity="0.85" fill="none"/><circle cx="375.8" cy="660.4" r="3.5" fill="#0000ff"/><path d="M424.7 651.3V663.4" stroke="#0000ff" stroke-width="1.3" stroke-opacity="0.62" fill="none"/><path d="M421.4 650.7H428M421.4 664H428" stroke="#0000ff" stroke-width="1.2" stroke-opacity="0.85" fill="none"/><circle cx="424.7" cy="657.3" r="3.5" fill="#0000ff"/><polyline points="228,664.1 277.1,661.6 326.7,621.8 375.8,618.2 424.7,643" stroke="#ff0000" stroke-width="1.45" fill="none" stroke-linejoin="round"/><path d="M228 663.6V664.4" stroke="#ff0000" stroke-width="1.3" stroke-opacity="0.62" fill="none"/><path d="M224.7 663H231.3M224.7 665H231.3" stroke="#ff0000" stroke-width="1.2" stroke-opacity="0.85" fill="none"/><circle cx="228" cy="664.1" r="3.5" fill="#ff0000"/><path d="M277.1 660.6V662.4" stroke="#ff0000" stroke-width="1.3" stroke-opacity="0.62" fill="none"/><path d="M273.8 660H280.4M273.8 663H280.4" stroke="#ff0000" stroke-width="1.2" stroke-opacity="0.85" fill="none"/><circle cx="277.1" cy="661.6" r="3.5" fill="#ff0000"/><path d="M326.7 608.9V634.8" stroke="#ff0000" stroke-width="1.3" stroke-opacity="0.62" fill="none"/><path d="M323.4 608.3H330M323.4 635.4H330" stroke="#ff0000" stroke-width="1.2" stroke-opacity="0.85" fill="none"/><circle cx="326.7" cy="621.8" r="3.5" fill="#ff0000"/><path d="M375.8 589.7V646.1" stroke="#ff0000" stroke-width="1.3" stroke-opacity="0.62" fill="none"/><path d="M372.5 589.1H379.1M372.5 646.7H379.1" stroke="#ff0000" stroke-width="1.2" stroke-opacity="0.85" fill="none"/><circle cx="375.8" cy="618.2" r="3.5" fill="#ff0000"/><path d="M424.7 626.2V660.2" stroke="#ff0000" stroke-width="1.3" stroke-opacity="0.62" fill="none"/><path d="M421.4 625.6H428M421.4 660.8H428" stroke="#ff0000" stroke-width="1.2" stroke-opacity="0.85" fill="none"/><circle cx="424.7" cy="643" r="3.5" fill="#ff0000"/></g>
<path d="M434.2 631.4V627.0M434.2 631.4L430.0 630.0M434.2 631.4L438.4 630.0M434.2 631.4L431.5 634.8M434.2 631.4L436.9 634.8" stroke="#000" stroke-width="1.7" stroke-linecap="butt"/>
<path d="M324.1 599.6H325.9M327.1 599.6H328.9" stroke="#777" stroke-width="1"/>
<path d="M505.4 609.3H527.4" stroke="#ff0000" stroke-width="2.3"/><circle cx="516.4" cy="609.3" r="5.1" fill="#ff0000"/>
<text x="535.6" y="613.7" class="lg">Control</text>
<path d="M505.4 633.9H527.4" stroke="#0000ff" stroke-width="2.3"/><circle cx="516.4" cy="633.9" r="5.1" fill="#0000ff"/>
<text x="537.8" y="635.6" class="lg">Fingolimod</text>
</svg></body></html>
